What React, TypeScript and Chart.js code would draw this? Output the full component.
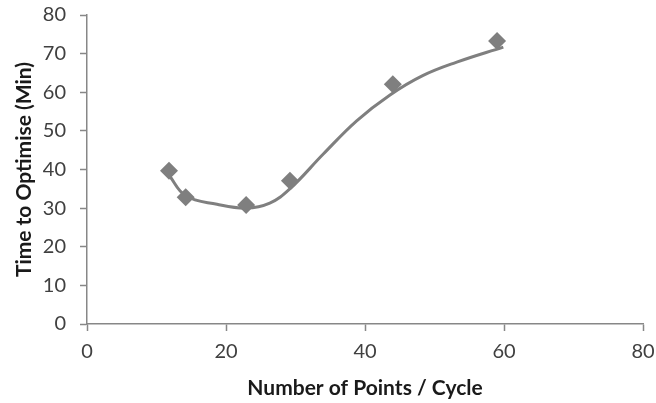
import React, { useEffect, useRef } from "react";
import { Chart, registerables } from "chart.js";

Chart.register(...registerables);

const pointsX = [11.8, 14.2, 22.9, 29.2, 44.0, 59.0];
const pointsY = [39.7, 32.8, 30.8, 37.1, 62.1, 73.3];

const trendX = [11.8, 14.2, 18.7, 22.9, 26.3, 29.2, 34.0, 38.8, 43.6, 48.3, 53.2, 59.9];
const trendY = [38.5, 33.2, 31.0, 30.0, 31.3, 35.0, 44.0, 52.6, 59.3, 64.3, 67.8, 71.7];

const xTitle = "Number of Points / Cycle";
const yTitle = "Time to Optimise (Min)";

const GREY = "#7f7f7f";
const AXIS = "#878787";

export default function App() {
  const ref = useRef<HTMLCanvasElement | null>(null);
  useEffect(() => {
    document.body.style.margin = "0";
    if (!ref.current) return;
    const chart = new Chart(ref.current, {
      type: "scatter",
      data: {
        datasets: [
          {
            label: "trend",
            data: trendX.map((x, i) => ({ x, y: trendY[i] })),
            showLine: true,
            borderColor: GREY,
            borderWidth: 3,
            pointRadius: 0,
            tension: 0.4,
            order: 2,
          },
          {
            label: "points",
            data: pointsX.map((x, i) => ({ x, y: pointsY[i] })),
            pointStyle: "rectRot",
            pointRadius: 9,
            pointBackgroundColor: GREY,
            pointBorderColor: GREY,
            pointBorderWidth: 0,
            order: 1,
          },
        ],
      },
      options: {
        animation: false,
        responsive: false,
        maintainAspectRatio: false,
        layout: { padding: { top: 15, right: 13, left: 0, bottom: 0 } },
        plugins: { legend: { display: false }, tooltip: { enabled: false } },
        scales: {
          x: {
            type: "linear",
            min: 0,
            max: 80,
            ticks: { stepSize: 20, color: "#404040", font: { family: "Lato", size: 20 }, padding: 9 },
            grid: { drawOnChartArea: false, drawTicks: true, tickLength: 7, color: AXIS, tickWidth: 1.5 },
            border: { color: AXIS, width: 1.5 },
            title: {
              display: true,
              text: xTitle,
              color: "#1a1a1a",
              font: { family: "Lato", size: 21, weight: "bold" },
              padding: { top: 0, bottom: 2 },
            },
            afterFit: (s: any) => {
              s.height = 79;
              s.paddingLeft = 0;
              s.paddingRight = 0;
            },
          },
          y: {
            type: "linear",
            min: 0,
            max: 80,
            ticks: { stepSize: 10, color: "#404040", font: { family: "Lato", size: 20 }, padding: 14 },
            grid: { drawOnChartArea: false, drawTicks: true, tickLength: 7, color: AXIS, tickWidth: 1.5 },
            border: { color: AXIS, width: 1.5 },
            title: {
              display: true,
              text: yTitle,
              color: "#1a1a1a",
              font: { family: "Lato", size: 21, weight: "bold" },
              padding: { top: 12, bottom: 0 },
            },
            afterFit: (s: any) => {
              s.width = 87;
              s.paddingTop = 0;
              s.paddingBottom = 0;
            },
          },
        },
      },
    } as any);
    return () => chart.destroy();
  }, []);
  return (
    <div style={{ width: 656, height: 403 }}>
      <canvas ref={ref} width={656} height={403} style={{ width: 656, height: 403 }} />
    </div>
  );
}
